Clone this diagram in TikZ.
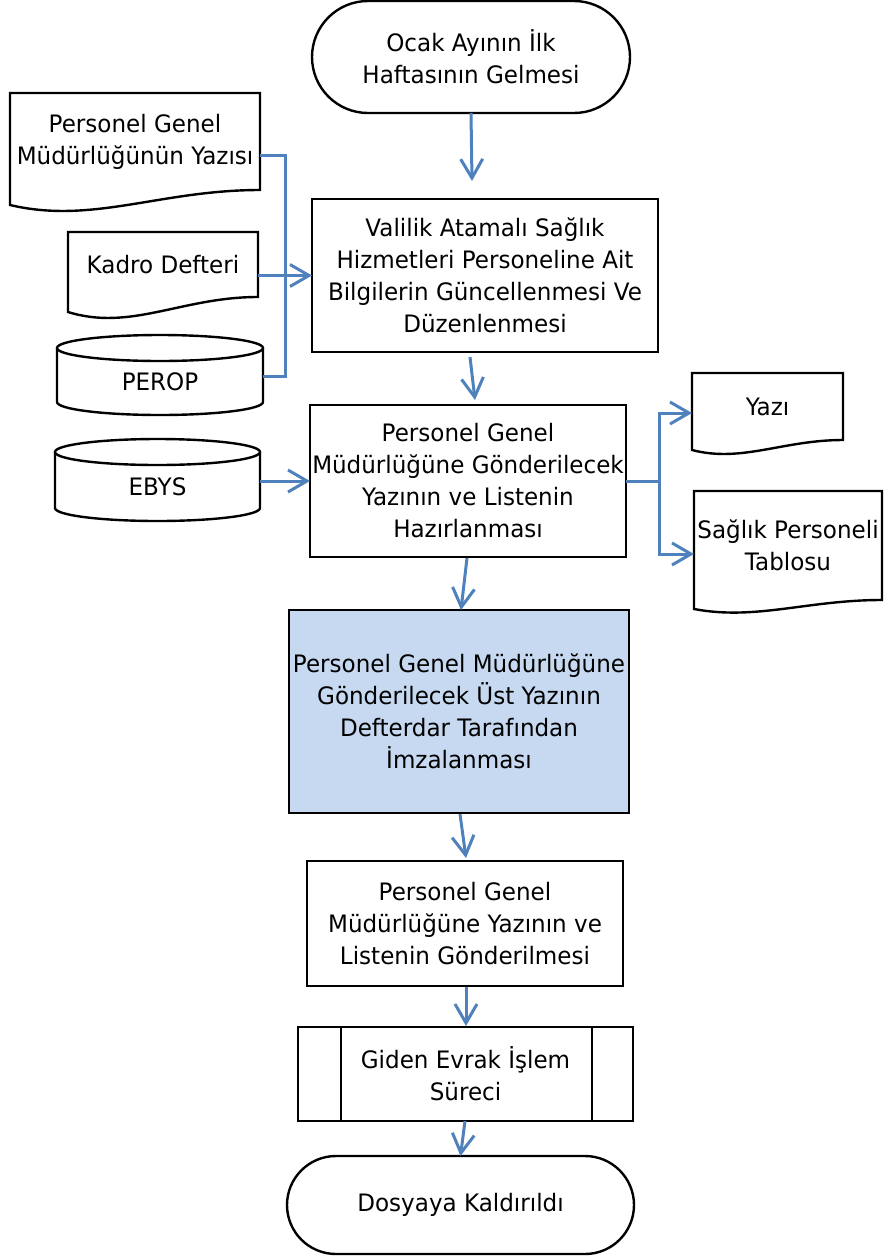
\documentclass[tikz,border=0pt]{standalone}
\usepackage{fontspec}
\setmainfont{DejaVu Sans}[FakeStretch=0.96]
\usetikzlibrary{arrows.meta,calc}
\definecolor{lineblue}{HTML}{4F81BD}
\definecolor{boxblue}{HTML}{C6D9F1}
\tikzset{
  shp/.style={draw=black, line width=2.4pt},
  txt/.style={rectangle, inner sep=0pt, outer sep=0pt, align=center,
    font=\fontsize{24}{32}\selectfont},
  box/.style={txt, shp},
  con/.style={draw=lineblue, line width=3pt},
  arr/.style={con, -{Straight Barb[length=19pt,width=22pt]}},
}
\newcommand\docframe[2]{%
  \draw[shp] (#1.south east) -- (#1.north east) -- (#1.north west) -- ($(#1.south west)+(0,#2)$)
    .. controls ($(#1.south west)!0.33!(#1.south east)+(0,2.3*#2)$) and ($(#1.south west)!0.6!(#1.south east)$) .. (#1.south east) -- cycle;}
\newcommand\cylframe[3]{%
  \draw[shp] ($(#1.north west)+(0,-#3)$) -- (#1.south west)
    arc[start angle=180,end angle=360,x radius=#2pt,y radius=#3pt] -- ($(#1.north east)+(0,-#3)$);
  \draw[shp] ($(#1.north)+(0,-#3)$) ellipse[x radius=#2pt,y radius=#3pt];}
\begin{document}
\begin{tikzpicture}[x=1pt,y=-1pt]
\useasboundingbox (0,0) rectangle (884,1256);
% main flow
\node[box, rounded corners=56pt, minimum width=318pt, minimum height=112pt] (st) at (471,57) {Ocak Ayının İlk\\Haftasının Gelmesi};
\node[box, minimum width=346pt, minimum height=153pt] (b2) at (485,275.5) {Valilik Atamalı Sağlık\\Hizmetleri Personeline Ait\\Bilgilerin Güncellenmesi Ve\\Düzenlenmesi};
\node[box, minimum width=316pt, minimum height=152pt] (b3) at (468,481) {Personel Genel\\Müdürlüğüne Gönderilecek\\Yazının ve Listenin\\Hazırlanması};
\node[box, fill=boxblue, minimum width=340pt, minimum height=203pt] (bl) at (459,711.5) {Personel Genel Müdürlüğüne\\Gönderilecek Üst Yazının\\Defterdar Tarafından\\İmzalanması};
\node[box, minimum width=316pt, minimum height=125pt] (b5) at (465,923.5) {Personel Genel\\Müdürlüğüne Yazının ve\\Listenin Gönderilmesi};
\node[box, minimum width=335pt, minimum height=94pt] (pp) at (465.5,1074) {Giden Evrak İşlem\\Süreci};
\draw[shp] ($(pp.north west)+(43,0)$) -- ($(pp.south west)+(43,0)$);
\draw[shp] ($(pp.north east)+(-41,0)$) -- ($(pp.south east)+(-41,0)$);
\node[box, rounded corners=49pt, minimum width=347pt, minimum height=98pt] (en) at (460.5,1205) {Dosyaya Kaldırıldı};
% documents
\node[txt, minimum width=250pt, minimum height=97pt] (d1) at (135,141.5) {Personel Genel\\Müdürlüğünün Yazısı};
\docframe{d1}{15}
\node[txt, minimum width=190pt, minimum height=65pt] (kd) at (163,264.5) {Kadro Defteri};
\docframe{kd}{15}
\node[txt, minimum width=151pt, minimum height=67pt] (yz) at (767.5,406.5) {Yazı};
\docframe{yz}{10}
\node[txt, minimum width=188pt, minimum height=109pt] (sp) at (788,545.5) {Sağlık Personeli\\Tablosu};
\docframe{sp}{9}
% databases
\node[txt, minimum width=206pt, minimum height=41pt] (pr) at (160,381.5) {PEROP};
\cylframe{pr}{103}{13}
\node[txt, minimum width=205pt, minimum height=43pt] (eb) at (157.5,486.5) {EBYS};
\cylframe{eb}{102.5}{13}
% connectors
\coordinate (jl) at (285,275.5);
\coordinate (jr) at (659,481);
\draw[con] ($(d1.north east)+(0,62)$) -| (jl);
\draw[con] ($(pr.east)+(0,-5.5)$) -| (jl);
\draw[arr] ($(kd.east)+(0,11)$) -- (b2.west);
\draw[arr] ($(eb.east)+(0,-5.5)$) -- (b3.west);
\draw[con] (b3.east) -- (jr);
\draw[arr] (jr) |- ($(yz.west)+(0,6.5)$);
\draw[arr] (jr) |- ($(sp.west)+(0,8.5)$);
\draw[arr] (st.south) -- ($(b2.north)+(-13,-18)$);
\draw[arr] ($(b2.south)+(-15,5)$) -- ($(b3.north)+(7,-5)$);
\draw[arr] ($(b3.south)+(-1,1)$) -- ($(bl.north)+(2,0)$);
\draw[arr] ($(bl.south)+(1,1)$) -- ($(b5.north)+(1,-3)$);
\draw[arr] ($(b5.south)+(1,1)$) -- ($(pp.north)+(0.5,-1)$);
\draw[arr] ($(pp.south)+(-0.5,0)$) -- (en.north);
\end{tikzpicture}
\end{document}
